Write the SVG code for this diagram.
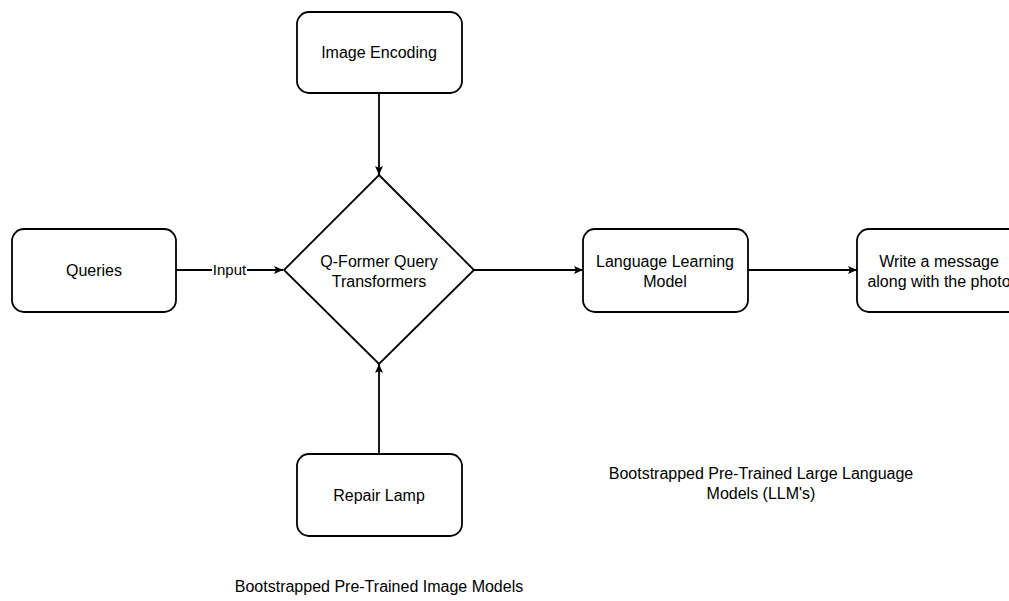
<svg xmlns="http://www.w3.org/2000/svg" width="1009" height="601" viewBox="0 0 1009 601">
<style>
.box{fill:#fff;stroke:#000;stroke-width:1.8}
.t{font-family:"Liberation Sans",Arial,sans-serif;font-size:16px;fill:#000;text-anchor:middle}
.c{stroke:#000;stroke-width:1.8;fill:none}
</style>
<defs>
<marker id="ah" markerWidth="10" markerHeight="10" refX="9" refY="5" orient="auto" markerUnits="userSpaceOnUse">
<path d="M0,1 L9,5 L0,9 L2,5 Z" fill="#000"/>
</marker>
</defs>
<rect width="1009" height="601" fill="#fff"/>
<g id="connectors">
<line class="c" x1="176" y1="270" x2="212" y2="270"/>
<line class="c" x1="247" y1="270" x2="283" y2="270" marker-end="url(#ah)"/>
<text class="t" x="229.5" y="275" style="font-size:15px">Input</text>
<line class="c" x1="379" y1="93" x2="379" y2="175" marker-end="url(#ah)"/>
<line class="c" x1="379" y1="454" x2="379" y2="364" marker-end="url(#ah)"/>
<line class="c" x1="474" y1="270" x2="583" y2="270" marker-end="url(#ah)"/>
<line class="c" x1="748" y1="270" x2="857" y2="270" marker-end="url(#ah)"/>
</g>
<g id="queries">
<rect class="box" x="12" y="229" width="164" height="83" rx="12"/>
<text class="t" x="94" y="276">Queries</text>
</g>
<g id="image-encoding">
<rect class="box" x="297" y="12" width="165" height="81" rx="12"/>
<text class="t" x="379" y="58">Image Encoding</text>
</g>
<g id="qformer">
<polygon class="box" points="379,175 474,270 379,364 284,270"/>
<text class="t" x="379" y="267">Q-Former Query</text>
<text class="t" x="379" y="287">Transformers</text>
</g>
<g id="repair-lamp">
<rect class="box" x="297" y="454" width="165" height="82" rx="12"/>
<text class="t" x="379" y="501">Repair Lamp</text>
</g>
<g id="llm">
<rect class="box" x="583" y="229" width="165" height="83" rx="12"/>
<text class="t" x="665" y="267">Language Learning</text>
<text class="t" x="665" y="287">Model</text>
</g>
<g id="write-message">
<rect class="box" x="857" y="229" width="165" height="83" rx="12"/>
<text class="t" x="939" y="267">Write a message</text>
<text class="t" x="939" y="287">along with the photo</text>
</g>
<g id="labels">
<text class="t" x="761" y="479">Bootstrapped Pre-Trained Large Language</text>
<text class="t" x="761" y="499">Models (LLM's)</text>
<text class="t" x="379" y="592">Bootstrapped Pre-Trained Image Models</text>
</g>
</svg>
